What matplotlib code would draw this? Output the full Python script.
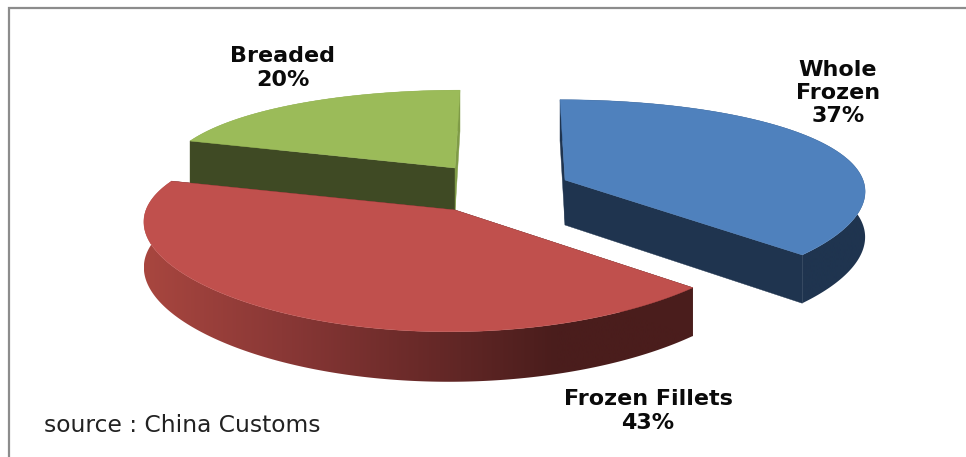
import numpy as np
import matplotlib
matplotlib.use("Agg")
import matplotlib.pyplot as plt
from matplotlib.colors import LinearSegmentedColormap
from matplotlib.patches import Polygon

# Data
categories = ["Whole\nFrozen", "Frozen Fillets", "Breaded"]
values = [37, 43, 20]
source_text = "source : China Customs"

# Styles
top_colors = ["#4F81BD", "#C0504D", "#9BBB59"]
start_face_colors = ["#1F344F", "#4A1D1C", "#3F4A24"]
end_face_colors = ["#1F344F", "#4A1D1C", "#7F9B47"]
rim_ramps = [["#1F344F", "#1F344F"],
             ["#A8463F", "#8A3836", "#6A2A29", "#4A1D1C", "#4A1D1C"],
             ["#7F9B47", "#7F9B47"]]
apex_x = [565, 455, 455]
apex_y = [180, 210, 168]
radius = [298, 309, 289]
label_xy = [(838, 93), (648, 411), (283, 68)]
draw_order = [2, 0, 1]

# Projection of the tilted pie
K, PX, PY, DEPTH = 0.32, 0.10, 0.188, 45.0
X0 = 510.0


def project(i, u, v, z=0.0):
    """u, v: position in the wedge's plane, in radii from its apex."""
    sxx = 1.0 / (1.0 + PX * v)
    syy = 1.0 / (1.0 + PY * v)
    r = radius[i]
    return (X0 + (apex_x[i] - X0 + r * u) * sxx,
            apex_y[i] - K * r * v * syy + z * sxx)


fig = plt.figure(figsize=(9.66, 4.57), dpi=100)
ax = fig.add_axes([0, 0, 1, 1])
ax.axis("off")

# Frame: only the left and top edges are visible
ax.plot([9, 9, 966], [457, 8, 8], color="#8C8C8C", lw=1.6, solid_joinstyle="miter")

fractions = np.array(values, dtype=float) / sum(values)
edges = np.concatenate([[0], np.cumsum(fractions)]) * 2 * np.pi

for i in draw_order:
    th = np.linspace(edges[i], edges[i + 1], 200)
    u, v = np.sin(th), np.cos(th)
    sx, sy = project(i, u, v)
    bx, by = project(i, u, v, DEPTH)
    a0x, a0y = project(i, 0.0, 0.0)
    a1x, a1y = project(i, 0.0, 0.0, DEPTH)
    z = 2 + draw_order.index(i) * 3

    # Outer rim with horizontal shading, drawn as a gradient clipped to the rim
    cmap = LinearSegmentedColormap.from_list("rim", rim_ramps[i])
    rim = Polygon(np.c_[np.r_[sx, bx[::-1]], np.r_[sy, by[::-1]]], closed=True,
                  facecolor="none", edgecolor="none", zorder=z)
    ax.add_patch(rim)
    im = ax.imshow(np.linspace(0, 1, 256)[None, :], cmap=cmap, aspect="auto",
                   extent=(min(sx.min(), bx.min()), max(sx.max(), bx.max()), 457, 0),
                   zorder=z, interpolation="bilinear")
    im.set_clip_path(rim)

    # Radial cut faces
    ax.fill([a0x, sx[0], bx[0], a1x], [a0y, sy[0], by[0], a1y],
            color=start_face_colors[i], lw=0.3, zorder=z + 0.5)
    ax.fill([a0x, sx[-1], bx[-1], a1x], [a0y, sy[-1], by[-1], a1y],
            color=end_face_colors[i], lw=0.3, zorder=z + 0.5)

    # Top surface
    ax.fill(np.r_[a0x, sx], np.r_[a0y, sy], color=top_colors[i], lw=0.3, zorder=z + 1)

    ax.text(label_xy[i][0], label_xy[i][1], f"{categories[i]}\n{values[i]}%",
            ha="center", va="center", family="DejaVu Sans", fontweight="bold",
            fontsize=16, linespacing=1.2, color="#0A0A0A", zorder=30)

ax.text(44, 426, source_text, ha="left", va="center", family="DejaVu Sans",
        fontsize=16.8, color="#222222", zorder=30)

ax.set_xlim(0, 966)
ax.set_ylim(457, 0)
fig.savefig("out.png", dpi=100)
